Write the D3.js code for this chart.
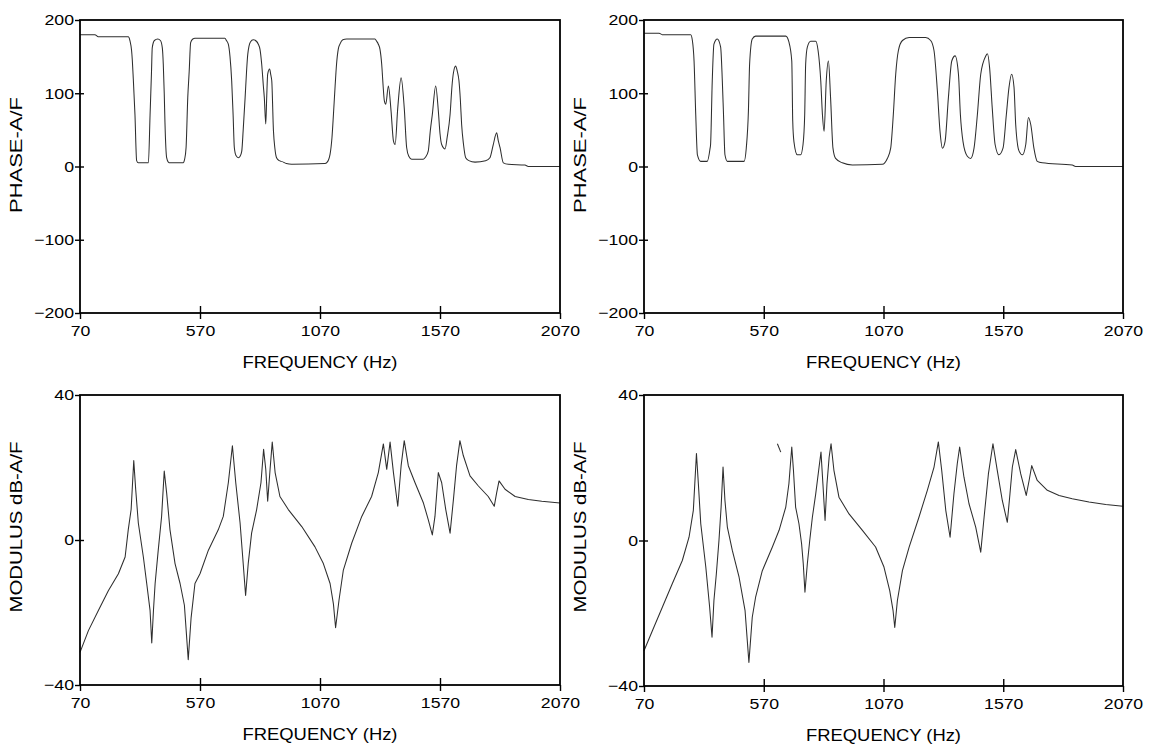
<!DOCTYPE html>
<html><head><meta charset="utf-8">
<script src="https://cdn.jsdelivr.net/npm/d3@7"></script>
<style>
body{margin:0;background:#fff}
svg{display:block}
text{font-family:"Liberation Sans",Arial,Helvetica,sans-serif;fill:#000}
</style>
</head><body>
<svg id="c" width="1161" height="748"></svg>
<script>
// ---------- data ----------
const freqTicks = [70, 570, 1070, 1570, 2070];
const phaseTicks = [-200, -100, 0, 100, 200];
const modulusTicks = [-40, 0, 40];
const xTitle = "FREQUENCY (Hz)";
const phaseTitle = "PHASE-A/F";
const modulusTitle = "MODULUS dB-A/F";

// [frequency Hz, phase deg]
const phaseLeft = [[70,180],[132,180],[146,177],[271,177],[278,172],[285,158],[288,145],[292,120],[299,71],[306,8],[313,5],[355,5],[362,71],[368,130],[371,162],[380,172],[394,174],[405,172],[413,162],[417,140],[421,100],[424,60],[431,12],[438,6],[445,5],[500,5],[506,10],[512,26],[519,94],[525,130],[531,169],[540,174],[549,175],[674,175],[680,172],[688,167],[695,150],[702,117],[708,70],[713,26],[720,15],[730,12],[737,14],[744,21],[750,50],[758,94],[764,130],[769,153],[780,170],[792,173],[805,171],[813,167],[820,160],[827,140],[834,110],[838,94],[844,58],[848,95],[852,126],[860,133],[865,125],[869,117],[876,49],[882,25],[889,12],[900,8],[910,7],[930,4],[952,3],[1090,4],[1100,6],[1112,17],[1120,40],[1126,71],[1133,110],[1139,140],[1146,160],[1153,167],[1165,173],[1181,174],[1299,174],[1306,171],[1313,167],[1320,160],[1327,140],[1333,110],[1338,90],[1344,85],[1355,110],[1366,76],[1376,35],[1383,30],[1394,80],[1408,121],[1421,80],[1431,26],[1440,14],[1452,10],[1500,10],[1510,13],[1521,21],[1530,50],[1538,71],[1552,110],[1563,76],[1570,45],[1577,30],[1591,24],[1600,40],[1612,71],[1620,110],[1626,128],[1635,137],[1642,130],[1649,117],[1655,90],[1660,58],[1668,30],[1677,12],[1690,8],[1716,6],[1760,8],[1778,12],[1792,30],[1806,46],[1813,35],[1820,26],[1834,5],[1855,3],[1924,2],[1938,0],[2070,0]];

const phaseRight = [[70,182],[133,182],[146,180],[265,180],[272,172],[279,144],[286,71],[293,16],[307,7],[334,7],[346,25],[348,30],[355,117],[362,167],[376,174],[390,163],[397,117],[402,71],[408,16],[418,7],[467,7],[488,7],[497,25],[506,76],[511,140],[522,174],[536,178],[662,178],[675,170],[687,144],[691,62],[696,34],[710,16],[724,16],[734,30],[741,71],[745,140],[752,163],[766,171],[787,171],[797,158],[808,117],[815,71],[822,48],[831,117],[840,144],[849,94],[859,25],[870,11],[898,5],[940,2],[1065,3],[1086,11],[1100,25],[1111,71],[1121,126],[1132,158],[1149,172],[1177,176],[1246,176],[1267,172],[1281,158],[1295,103],[1306,48],[1316,25],[1327,34],[1341,94],[1355,144],[1369,151],[1383,126],[1391,71],[1402,34],[1420,14],[1434,11],[1448,25],[1462,71],[1476,126],[1497,151],[1504,154],[1513,135],[1524,80],[1536,30],[1552,16],[1569,25],[1583,71],[1594,108],[1605,126],[1615,108],[1622,57],[1636,21],[1650,16],[1664,30],[1675,67],[1685,57],[1698,25],[1712,7],[1733,5],[1858,2],[1872,0],[2070,0]];

// [frequency Hz, modulus dB]
const modulusLeft = [[70,-31],[105,-25],[146,-19.5],[188,-14],[230,-9.3],[258,-4.7],[271,2.8],[283,8.4],[294,21.9],[302,14],[313,4.7],[334,-4.7],[348,-12],[362,-19.5],[369,-28.4],[376,-19.5],[383,-12],[396,-2.8],[410,6.5],[421,19],[431,13],[445,2.8],[466,-6.5],[487,-12],[505,-18],[521,-33],[533,-21.4],[549,-12],[570,-9.3],[605,-2.8],[646,2.8],[667,6.5],[688,15.8],[705,26],[719,15.8],[737,4.7],[751,-7.4],[760,-15.3],[771,-6.5],[785,1.9],[806,8.4],[824,15.8],[835,25],[844,19.5],[852,10.7],[862,19.5],[871,27],[883,18.6],[903,12],[938,8.4],[994,3.7],[1049,-1.9],[1084,-6.5],[1112,-12],[1126,-17.7],[1135,-24.2],[1149,-16.7],[1167,-8.4],[1202,-0.9],[1244,6.5],[1285,12],[1313,18.6],[1334,26.5],[1348,19.5],[1362,27],[1376,18.6],[1394,9.3],[1408,20.5],[1421,27.4],[1438,20.5],[1466,15.8],[1501,10.2],[1521,5.6],[1538,1.4],[1549,6.5],[1563,18.6],[1577,15.8],[1594,8.4],[1612,1.9],[1626,11.2],[1639,20.5],[1653,27.4],[1667,23.3],[1695,17.7],[1730,14.9],[1771,12],[1796,9.3],[1806,13],[1816,16.3],[1841,14],[1883,12],[1938,11.2],[1994,10.7],[2070,10.2]];

const modulusRight = [[70,-30.3],[105,-24.8],[147,-18.3],[188,-11.9],[230,-5.5],[258,0.9],[276,8.3],[289,23.9],[297,15.6],[307,4.6],[328,-7.3],[344,-18.3],[354,-26.6],[362,-16.5],[372,-9.2],[383,0],[392,9.2],[400,20.2],[408,11],[418,3.7],[439,-2.8],[467,-10.1],[492,-19.3],[508,-33.5],[522,-21.1],[536,-15.6],[564,-8.3],[606,-1.8],[634,2.8],[662,9.2],[675,15.6],[687,25.7],[694,19.3],[703,9.2],[717,4.6],[728,-0.9],[735,-6.4],[742,-14.2],[752,-6.4],[762,0],[773,6.4],[787,12.8],[801,20.2],[809,24.3],[817,15.6],[826,5.5],[834,15.6],[843,22.9],[851,26.6],[863,19.3],[884,11.9],[926,7.3],[982,2.8],[1037,-1.8],[1072,-7.3],[1096,-13.8],[1110,-19.3],[1117,-23.9],[1128,-16.5],[1149,-8.3],[1177,-1.8],[1218,6.4],[1253,13.8],[1281,20.2],[1299,27.1],[1313,19.3],[1330,8.3],[1348,0.9],[1364,12.8],[1378,21.1],[1388,25.7],[1406,17.4],[1427,10.1],[1455,3.7],[1476,-3.2],[1490,6.4],[1508,18.3],[1527,26.6],[1545,19.3],[1566,11],[1587,5],[1598,12.8],[1608,20.2],[1622,25],[1643,18.3],[1666,12.4],[1678,16.5],[1689,20.6],[1712,16.5],[1754,13.8],[1803,12.4],[1858,11.5],[1928,10.6],[1998,9.9],[2070,9.4]];

const modulusRightFragment = [[627,26.6],[641,24.3]];

// ---------- layout ----------
const panels = [
  {left:80,  right:560,  top:20,  bottom:313, yDomain:[-200,200], yTicks:phaseTicks,   title:phaseTitle,   titleLen:116, titleCy:155, smooth:true,  series:[phaseLeft]},
  {left:644, right:1123, top:20,  bottom:313, yDomain:[-200,200], yTicks:phaseTicks,   title:phaseTitle,   titleLen:116, titleCy:155, smooth:true,  series:[phaseRight]},
  {left:80,  right:560,  top:395, bottom:685, yDomain:[-40,40],   yTicks:modulusTicks, title:modulusTitle, titleLen:171, titleCy:527, smooth:false, series:[modulusLeft]},
  {left:644, right:1123, top:395, bottom:686, yDomain:[-40,40],   yTicks:modulusTicks, title:modulusTitle, titleLen:171, titleCy:527, smooth:false, series:[modulusRight, modulusRightFragment]}
];

const svg = d3.select("#c");
const FONT = '"Liberation Sans", Arial, Helvetica, sans-serif';

function stretch(sel, ratio){
  sel.each(function(){
    const w = this.getComputedTextLength();
    d3.select(this).attr("textLength", w*ratio).attr("lengthAdjust","spacingAndGlyphs");
  });
}

panels.forEach(p => {
  const x = d3.scaleLinear().domain([70,2070]).range([p.left,p.right]);
  const y = d3.scaleLinear().domain(p.yDomain).range([p.bottom,p.top]);
  const g = svg.append("g");
  const line = d3.line().x(d => x(d[0])).y(d => y(d[1]))
    .curve(p.smooth ? d3.curveMonotoneX : d3.curveLinear);

  p.series.forEach(s => {
    g.append("path").attr("d", line(s))
      .attr("fill","none").attr("stroke","#2e2e2e")
      .attr("stroke-width",1.05).attr("stroke-linejoin","round");
  });

  g.append("rect")
    .attr("x",p.left).attr("y",p.top)
    .attr("width",p.right-p.left).attr("height",p.bottom-p.top)
    .attr("fill","none").attr("stroke","#000").attr("stroke-width",1.8);

  // x axis
  const xa = g.append("g").attr("transform",`translate(0,${p.bottom})`)
    .call(d3.axisBottom(x).tickValues(freqTicks).tickSizeInner(6).tickSizeOuter(0)
      .tickPadding(6).tickFormat(d3.format("d")));
  xa.attr("font-size",15).attr("font-family",FONT);
  xa.select(".domain").remove();
  xa.selectAll(".tick line")
    .attr("y1", d => (d===70||d===2070) ? 0 : -7).attr("y2",6)
    .attr("stroke","#000").attr("stroke-width",1.4);
  xa.selectAll(".tick text").attr("fill","#000");
  stretch(xa.selectAll(".tick text"), 1.18);

  // y axis
  const ya = g.append("g").attr("transform",`translate(${p.left},0)`)
    .call(d3.axisLeft(y).tickValues(p.yTicks).tickSizeInner(5).tickSizeOuter(0)
      .tickPadding(1).tickFormat(d3.format("d")));
  ya.attr("font-size",15).attr("font-family",FONT);
  ya.select(".domain").remove();
  const yEnds = d3.extent(p.yTicks);
  ya.selectAll(".tick line")
    .attr("x1", d => (d===yEnds[0]||d===yEnds[1]) ? 0 : 4).attr("x2",-5)
    .attr("stroke","#000").attr("stroke-width",1.4);
  ya.selectAll(".tick text").attr("fill","#000");
  stretch(ya.selectAll(".tick text"), 1.18);

  // x title
  g.append("text")
    .attr("x",(p.left+p.right)/2).attr("y",p.bottom+55)
    .attr("text-anchor","middle").attr("font-size",16)
    .attr("textLength",155).attr("lengthAdjust","spacingAndGlyphs")
    .text(xTitle);

  // y title
  g.append("text")
    .attr("transform",`translate(${p.left-58},${p.titleCy}) rotate(-90)`)
    .attr("text-anchor","middle").attr("font-size",16)
    .attr("textLength",p.titleLen).attr("lengthAdjust","spacingAndGlyphs")
    .text(p.title);
});
</script>
</body></html>
